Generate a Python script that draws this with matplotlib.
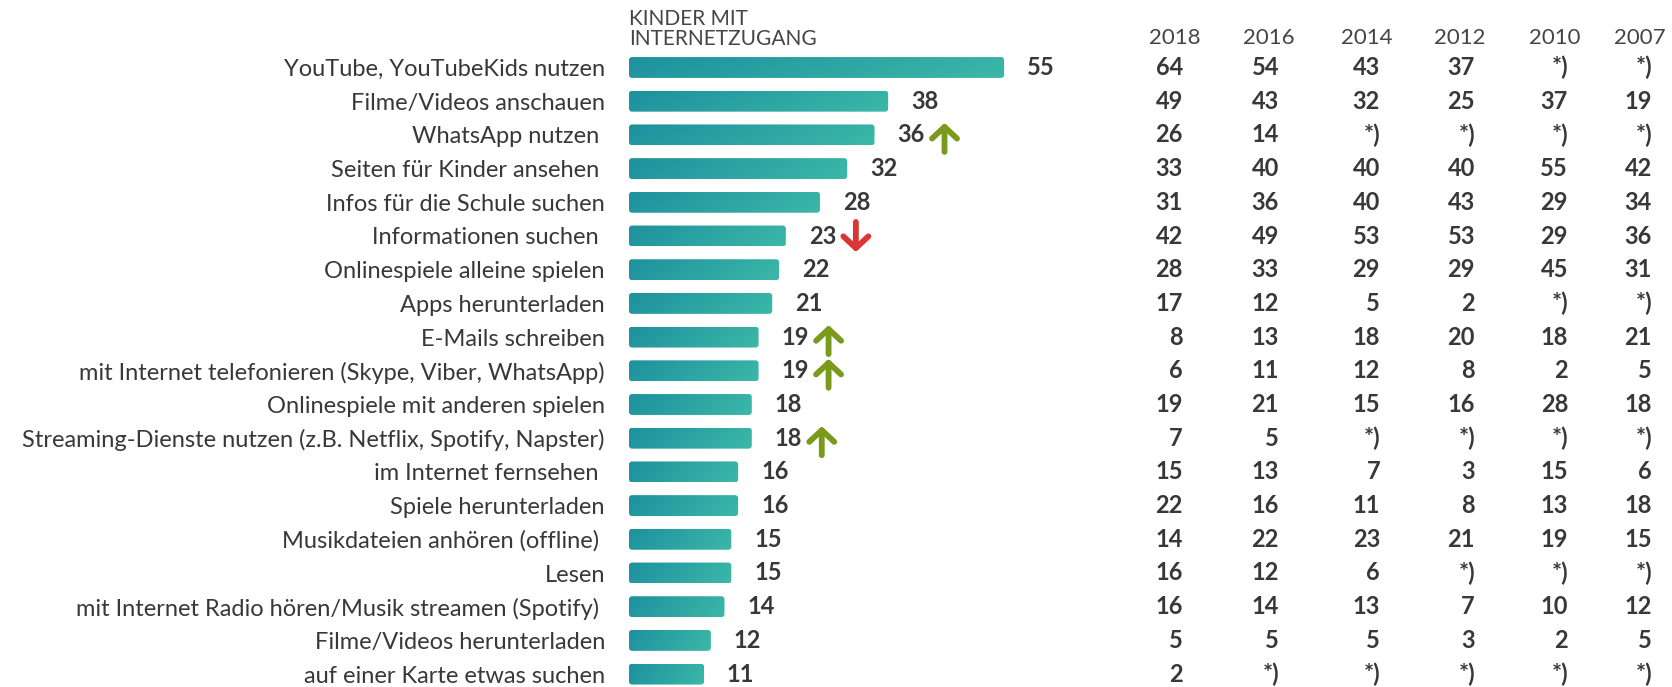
import numpy as np
import matplotlib
matplotlib.use("Agg")
import matplotlib.pyplot as plt
from matplotlib.patches import FancyBboxPatch
from matplotlib.colors import LinearSegmentedColormap
from matplotlib.transforms import offset_copy, blended_transform_factory

plt.rcParams['font.family'] = ['Lato', 'DejaVu Sans']

# ----------------------------
# Daten
# ----------------------------
labels = [
    "YouTube, YouTubeKids nutzen",
    "Filme/Videos anschauen",
    "WhatsApp nutzen ",
    "Seiten für Kinder ansehen ",
    "Infos für die Schule suchen",
    "Informationen suchen ",
    "Onlinespiele alleine spielen",
    "Apps herunterladen",
    "E-Mails schreiben",
    "mit Internet telefonieren (Skype, Viber, WhatsApp)",
    "Onlinespiele mit anderen spielen",
    "Streaming-Dienste nutzen (z.B. Netflix, Spotify, Napster)",
    "im Internet fernsehen ",
    "Spiele herunterladen",
    "Musikdateien anhören (offline) ",
    "Lesen",
    "mit Internet Radio hören/Musik streamen (Spotify) ",
    "Filme/Videos herunterladen",
    "auf einer Karte etwas suchen",
]
values = [55, 38, 36, 32, 28, 23, 22, 21, 19, 19, 18, 18, 16, 16, 15, 15, 14, 12, 11]
# Trend: +1 = gestiegen, -1 = gesunken, 0 = keine Markierung
trend = [0, 0, 1, 0, 0, -1, 0, 0, 1, 1, 0, 1, 0, 0, 0, 0, 0, 0, 0]

years = ["2018", "2016", "2014", "2012", "2010", "2007"]
v2018 = [64, 49, 26, 33, 31, 42, 28, 17, 8, 6, 19, 7, 15, 22, 14, 16, 16, 5, 2]
v2016 = [54, 43, 14, 40, 36, 49, 33, 12, 13, 11, 21, 5, 13, 16, 22, 12, 14, 5, None]
v2014 = [43, 32, None, 40, 40, 53, 29, 5, 18, 12, 15, None, 7, 11, 23, 6, 13, 5, None]
v2012 = [37, 25, None, 40, 43, 53, 29, 2, 20, 8, 16, None, 3, 8, 21, None, 7, 3, None]
v2010 = [None, 37, None, 55, 29, 29, 45, None, 18, 2, 28, None, 15, 13, 19, None, 10, 2, None]
v2007 = [None, 19, None, 42, 34, 36, 31, None, 21, 5, 18, None, 6, 18, 15, None, 12, 5, None]
table = [v2018, v2016, v2014, v2012, v2010, v2007]

# ----------------------------
# Layout
# ----------------------------
W, H = 1672, 687
fig = plt.figure(figsize=(W / 100, H / 100), dpi=100)
x0_px = 629                 # Beginn der Balken
px_per_unit = 6.82          # Pixel pro Prozentpunkt
row_px = 33.7               # Zeilenabstand
first_row_px = 67.5         # Mitte der ersten Zeile (von oben)

ax = fig.add_axes([x0_px / W, 0, (W - x0_px) / W, 1])
top = -first_row_px / row_px
bottom = top + H / row_px
for s in ax.spines.values():
    s.set_visible(False)
ax.set_xticks([])

ypos = np.arange(len(labels))
text_col = "#383838"

bars = ax.barh(ypos, values, height=0.62, color="none")

# Farbverlauf in abgerundeten Balken
cmap = LinearSegmentedColormap.from_list("teal", ["#1d919e", "#3cb8a8"])
gx = np.linspace(0, 1, 200)
gy = np.linspace(0, 1, 20)
grad = gx[None, :] * 0.85 + gy[:, None] * 0.15
r = 3 / px_per_unit
asp = px_per_unit / row_px
for b in bars:
    bx, by, bw, bh = b.get_x(), b.get_y(), b.get_width(), b.get_height()
    patch = FancyBboxPatch((bx, by), bw, bh,
                           boxstyle=f"round,pad=0,rounding_size={r}",
                           mutation_aspect=asp, fc="none", ec="none")
    ax.add_patch(patch)
    im = ax.imshow(grad, cmap=cmap, extent=(bx, bx + bw, by + bh, by),
                   aspect="auto", interpolation="bilinear")
    im.set_clip_path(patch)

ax.set_xlim(0, (W - x0_px) / px_per_unit)
ax.set_ylim(bottom, top)

ax.set_yticks(ypos, labels)
ax.tick_params(axis="y", length=0, pad=17.3, labelsize=17, labelcolor=text_col)

ax.bar_label(bars, padding=16.5, fontsize=17, fontweight="bold", color=text_col)

# Pfeile
for i, t in enumerate(trend):
    if t == 0:
        continue
    col = "#7a9a1c" if t > 0 else "#dc3535"
    if t > 0:
        tail, head = -17, 12
    else:
        tail, head = 14, -16
    tr_tail = offset_copy(ax.transData, fig=fig, x=70, y=tail, units="dots")
    tr_head = offset_copy(ax.transData, fig=fig, x=70, y=head, units="dots")
    ax.annotate("", xy=(values[i], ypos[i]), xycoords=tr_head,
                xytext=(values[i], ypos[i]), textcoords=tr_tail,
                arrowprops=dict(arrowstyle="->,head_length=0.42,head_width=0.45",
                                mutation_scale=20, lw=4.2, color=col,
                                shrinkA=0, shrinkB=0, capstyle="round",
                                joinstyle="round"))

# Überschrift Balken
fig.text(x0_px / W, 1 - 9 / H, "KINDER MIT\nINTERNETZUGANG", ha="left", va="top",
         fontsize=15, color="#454545", linespacing=0.98)

# Tabelle der Vorjahre
col_center = [1175, 1269, 1367, 1460, 1555, 1640]
col_right = [1183, 1279, 1380, 1475, 1568, 1652]
tr_tab = blended_transform_factory(fig.transFigure, ax.transData)
for j, yr in enumerate(years):
    fig.text(col_center[j] / W, 1 - 44.5 / H, yr, ha="center", va="baseline",
             fontsize=16, color="#454545")
    for i, v in enumerate(table[j]):
        s = "*)" if v is None else str(v)
        ax.text(col_right[j] / W, ypos[i], s, transform=tr_tab,
                ha="right", va="center", fontsize=17, fontweight="bold", color=text_col)

fig.savefig("out.png", dpi=100)
